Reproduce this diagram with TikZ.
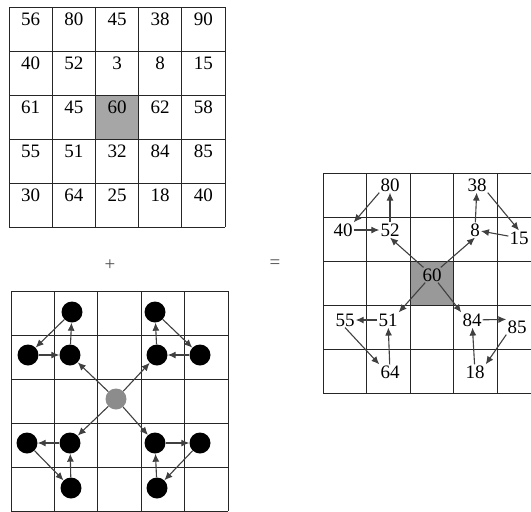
\documentclass[tikz,border=0pt]{standalone}
\usepackage{fontspec}
\setmainfont{Liberation Serif}
\usetikzlibrary{arrows.meta}
\begin{document}
\begin{tikzpicture}[x=1pt,y=-1pt,
  gridline/.style={draw=black!85,line width=0.8pt},
  num/.style={font=\fontsize{19}{19}\selectfont, inner sep=1pt},
  op/.style={font=\fontsize{19}{19}\selectfont, text=black!70, inner sep=1pt},
  arr/.style={draw=black!75,line width=1.1pt,-{Latex[length=8pt,width=7pt]}},
  dot/.style={circle,fill=black,minimum size=21pt,inner sep=0pt},
  gdot/.style={circle,fill=black!45,minimum size=21pt,inner sep=0pt}]
\useasboundingbox (0,0) rectangle (531,512);
% ---------- top grid ----------
\fill[black!35] (95.4,95) rectangle (138.6,139);
\foreach \i in {0,...,5} {
  \draw[gridline] ({9+43.2*\i},7) -- ({9+43.2*\i},227);
  \draw[gridline] (9,{7+44*\i}) -- (225,{7+44*\i});
}
\foreach \row [count=\ri from 0] in {{56,80,45,38,90},{40,52,3,8,15},{61,45,60,62,58},{55,51,32,84,85},{30,64,25,18,40}} {
  \foreach \v [count=\ci from 0] in \row {
    \node[num] (t\ri\ci) at ({30.6+43.2*\ci},{19.5+44*\ri}) {\v};
  }
}
% ---------- operators ----------
\node[op] (plus) at (110,265) {+};
\node[op] (eq) at (275,264) {=};
% ---------- bottom grid ----------
\foreach \i in {0,...,5} {
  \draw[gridline] ({11+43.4*\i},291) -- ({11+43.4*\i},511);
  \draw[gridline] (11,{291+44*\i}) -- (228,{291+44*\i});
}
\node[gdot] (c) at (116,399) {};
\node[dot] (a1) at (72,312) {};
\node[dot] (a2) at (28,355) {};
\node[dot] (a3) at (70,355) {};
\node[dot] (b1) at (155,312) {};
\node[dot] (b2) at (200,355) {};
\node[dot] (b3) at (157,355) {};
\node[dot] (d1) at (27,443) {};
\node[dot] (d2) at (70,443) {};
\node[dot] (d3) at (71,488) {};
\node[dot] (e1) at (200,443) {};
\node[dot] (e2) at (155,443) {};
\node[dot] (e3) at (157,488) {};
\draw[arr] (c) -- (a3);
\draw[arr] (a3) -- (a1);
\draw[arr] (a1) -- (a2);
\draw[arr] (a2) -- (a3);
\draw[arr] (c) -- (b3);
\draw[arr] (b3) -- (b1);
\draw[arr] (b1) -- (b2);
\draw[arr] (b2) -- (b3);
\draw[arr] (c) -- (d2);
\draw[arr] (d2) -- (d1);
\draw[arr] (d1) -- (d3);
\draw[arr] (d3) -- (d2);
\draw[arr] (c) -- (e2);
\draw[arr] (e2) -- (e1);
\draw[arr] (e1) -- (e3);
\draw[arr] (e3) -- (e2);
% ---------- right grid ----------
\fill[black!40] (410.2,261) rectangle (453.8,305);
\foreach \i in {0,...,4} {
  \draw[gridline] ({323+43.6*\i},173) -- ({323+43.6*\i},393);
}
\foreach \i in {0,...,5} {
  \draw[gridline] (323,{173+44*\i}) -- (531,{173+44*\i});
}
\node[num] (r80) at (390,185) {80};
\node[num] (r38) at (477,185) {38};
\node[num] (r40) at (343,230) {40};
\node[num] (r52) at (390,230) {52};
\node[num] (r8) at (475,230) {8};
\node[num] (r15) at (519,238) {15};
\node[num] (r60) at (432,275) {60};
\node[num] (r55) at (345,320) {55};
\node[num] (r51) at (388,320) {51};
\node[num] (r84) at (472,320) {84};
\node[num] (r85) at (517,327) {85};
\node[num] (r64) at (390,372) {64};
\node[num] (r18) at (475,372) {18};
\draw[arr] (r80.south west) -- (r40.north east);
\draw[arr] (r52) -- (r80);
\draw[arr] (r40) -- (r52);
\draw[arr] (r38.south east) -- (r15.north);
\draw[arr] (r8) -- (r38);
\draw[arr] (r15) -- (r8);
\draw[arr] (r60) -- (r52.south);
\draw[arr] (r60) -- (r8.south);
\draw[arr] (r60) -- (r51.north east);
\draw[arr] (r60) -- (r84.north west);
\draw[arr] (r51) -- (r55);
\draw[arr] (r84) -- (r85.north west);
\draw[arr] (r55.south) -- (r64.north west);
\draw[arr] (r64) -- (r51);
\draw[arr] (r18) -- (r84);
\draw[arr] (r85.south west) -- (r18.north east);
\end{tikzpicture}
\end{document}
